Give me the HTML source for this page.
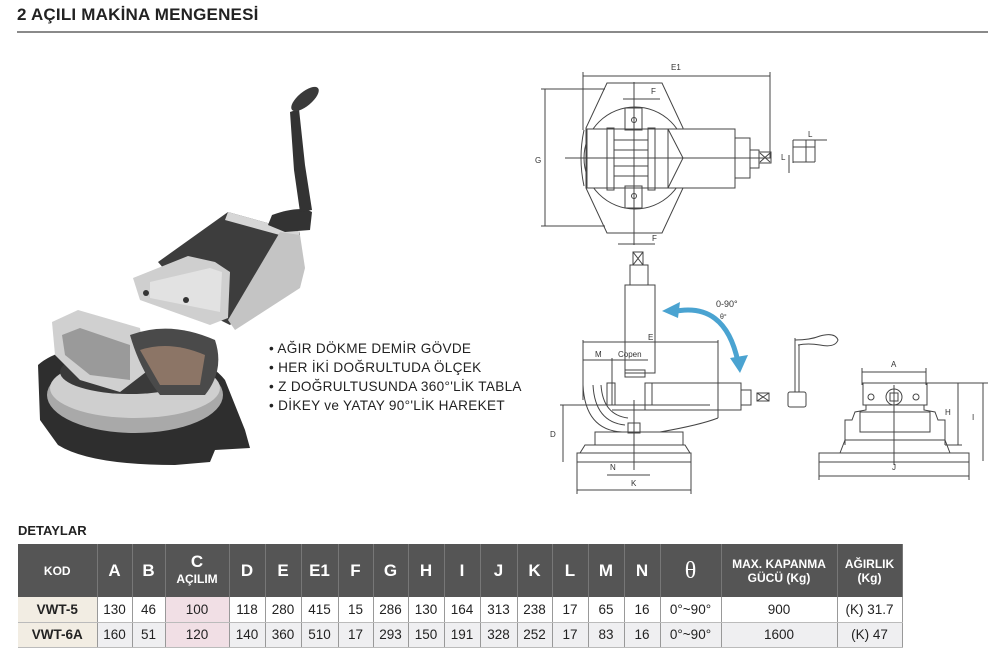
<!DOCTYPE html>
<html><head><meta charset="utf-8">
<style>
*{margin:0;padding:0;box-sizing:border-box}
body{width:988px;height:655px;background:#fff;position:relative;overflow:hidden;font-family:"Liberation Sans","DejaVu Sans",sans-serif;color:#222}
.title{position:absolute;left:17px;top:5px;font-size:17px;font-weight:bold;letter-spacing:0.2px}
.rule{position:absolute;left:17px;top:31px;width:971px;height:2px;background:#8a8a8a}
.bul{position:absolute;left:269px;top:339px;font-size:13.6px;line-height:19px;color:#222;letter-spacing:0.3px}
.det{position:absolute;left:18px;top:523px;font-size:13px;font-weight:bold}
table{position:absolute;left:18px;top:544px;border-collapse:collapse;font-size:13px;table-layout:fixed}
th{background:#555;color:#fff;height:53px;font-weight:bold;font-size:17px;border-right:1px solid #777;text-align:center;line-height:16px}
th.s{font-size:12px;line-height:14px}
td{height:25px;text-align:center;border-right:1px solid #999;border-bottom:1px solid #bbb;color:#222;font-size:13.5px}
tr.r2 td{background:#efeff1}
td.k{background:#f2ede3!important;font-weight:bold;font-size:13.5px}
td.c{background:#f1dfe5!important}
svg text{font-family:"Liberation Sans",sans-serif;fill:#333;stroke:none}
</style></head><body>
<div class="title">2 AÇILI MAKİNA MENGENESİ</div>
<div class="rule"></div>

<svg width="988" height="520" style="position:absolute;left:0;top:0">
<!-- vise photo approximation -->
<g>
<!-- base plate -->
<path d="M38 365 Q60 345 120 345 Q200 348 225 380 L245 430 L250 448 L215 450 L210 462 L175 465 Q90 465 58 445 L40 420Z" fill="#2e2e2e"/>
<ellipse cx="135" cy="395" rx="88" ry="38" fill="#a9a9a9"/>
<ellipse cx="135" cy="388" rx="85" ry="30" fill="#cfcfcf"/>
<ellipse cx="130" cy="372" rx="70" ry="22" fill="#3a3a3a"/>
<!-- rear fixed jaw / cradle -->
<path d="M52 322 L78 310 L140 328 L146 372 L120 392 L80 380 L55 355Z" fill="#d0d0d0"/>
<path d="M62 335 L80 328 L130 345 L130 380 L90 375 L65 355Z" fill="#9a9a9a"/>
<path d="M130 335 Q170 320 215 340 Q225 370 205 395 L160 395 Q140 370 130 335Z" fill="#4a4a4a"/>
<path d="M140 350 Q170 340 205 355 L200 385 L160 385Z" fill="#8c7566"/>
<!-- main body -->
<path d="M158 262 L228 212 L300 232 L297 266 L230 325 L200 310Z" fill="#3d3d3d"/>
<path d="M228 212 L300 232 L298 240 L225 220Z" fill="#d6d6d6"/>
<path d="M280 232 L300 235 L305 268 L300 288 L235 330 L228 320Z" fill="#c4c4c4"/>
<!-- moving jaw front -->
<path d="M133 278 L188 256 L215 262 L230 272 L228 318 L210 325 L140 300Z" fill="#cfcfcf"/>
<path d="M150 282 L210 268 L222 272 L220 312 L150 298Z" fill="#e2e2e2"/>
<circle cx="146" cy="293" r="3" fill="#333"/><circle cx="186" cy="300" r="3" fill="#333"/>
<!-- crank -->
<path d="M272 215 Q300 205 312 212 L310 230 L285 232 L268 225Z" fill="#333"/>
<path d="M290 112 L299 109 L305 165 L312 210 L300 212 L294 170Z" fill="#333"/>
<ellipse cx="305" cy="99" rx="17" ry="7" transform="rotate(-40 305 99)" fill="#3a3a3a"/>
</g>

<!-- top view drawing -->
<g fill="none" stroke="#444" stroke-width="1">
<line x1="583" y1="76" x2="770" y2="76"/>
<line x1="583" y1="72" x2="583" y2="130"/>
<line x1="770" y1="72" x2="770" y2="158"/>
<polygon points="586,128 607,83 662,83 683,128 683,188 662,233 607,233 586,188"/>
<circle cx="635" cy="158" r="51"/>
<path d="M584 130 Q578 158 584 186"/>
<rect x="587" y="129" width="81" height="59" fill="#fff"/>
<rect x="607" y="128" width="7" height="62"/>
<rect x="648" y="128" width="7" height="62"/>
<line x1="614" y1="140" x2="648" y2="140"/><line x1="614" y1="150" x2="648" y2="150"/><line x1="614" y1="166" x2="648" y2="166"/><line x1="614" y1="176" x2="648" y2="176"/>
<rect x="625" y="108" width="17" height="22"/><circle cx="634" cy="120" r="2.5"/>
<rect x="625" y="186" width="17" height="22"/><circle cx="634" cy="196" r="2.5"/>
<rect x="668" y="129" width="67" height="59" fill="#fff"/>
<polyline points="668,129 683,158 668,188"/>
<rect x="735" y="138" width="15" height="40"/>
<rect x="750" y="150" width="9" height="18"/>
<rect x="759" y="152" width="12" height="11"/>
<line x1="760" y1="153" x2="770" y2="162"/><line x1="770" y1="153" x2="760" y2="162"/>
<line x1="565" y1="158" x2="771" y2="158"/>
<line x1="634" y1="82" x2="634" y2="245"/>
<line x1="545" y1="89" x2="545" y2="226"/>
<line x1="541" y1="89" x2="605" y2="89"/><line x1="541" y1="226" x2="605" y2="226"/>
<line x1="623" y1="99" x2="660" y2="99"/><line x1="618" y1="244" x2="655" y2="244"/>
<line x1="793" y1="140" x2="793" y2="163"/>
<line x1="793" y1="140" x2="815" y2="140"/><line x1="793" y1="147" x2="815" y2="147"/><line x1="793" y1="162" x2="815" y2="162"/>
<line x1="806" y1="140" x2="806" y2="162"/><line x1="815" y1="140" x2="815" y2="162"/>
<line x1="797" y1="140" x2="827" y2="140"/>
<line x1="789" y1="155" x2="789" y2="173"/>
</g>
<text x="671" y="70" font-size="8">E1</text>
<text x="535" y="163" font-size="8">G</text>
<text x="651" y="94" font-size="8">F</text>
<text x="652" y="241" font-size="8">F</text>
<text x="808" y="137" font-size="8">L</text>
<text x="781" y="160" font-size="8">L</text>

<!-- side view drawing -->
<g fill="none" stroke="#444" stroke-width="1">
<rect x="633" y="252" width="10" height="13"/>
<line x1="633" y1="252" x2="643" y2="265"/><line x1="643" y1="252" x2="633" y2="265"/>
<rect x="630" y="265" width="18" height="20"/>
<rect x="625" y="285" width="30" height="88"/>
<rect x="625" y="370" width="20" height="7"/>
<line x1="583" y1="342" x2="718" y2="342"/>
<line x1="583" y1="340" x2="583" y2="400"/>
<line x1="718" y1="340" x2="718" y2="418"/>
<line x1="583" y1="360" x2="648" y2="360"/>
<line x1="612" y1="358" x2="612" y2="405"/>
<path d="M583 385 Q585 430 622 432"/>
<path d="M593 385 Q595 422 625 425"/>
<path d="M601 385 Q603 415 628 418"/>
<rect x="607" y="383" width="8" height="22"/>
<rect x="645" y="383" width="96" height="27"/>
<line x1="652" y1="383" x2="652" y2="405"/>
<line x1="612" y1="405" x2="710" y2="405"/>
<line x1="612" y1="410" x2="712" y2="410"/>
<path d="M718 418 Q700 425 660 432 L622 432"/>
<rect x="741" y="390" width="10" height="15"/>
<rect x="757" y="393" width="12" height="8"/>
<line x1="757" y1="393" x2="769" y2="401"/><line x1="769" y1="393" x2="757" y2="401"/>
<rect x="628" y="423" width="12" height="10"/>
<rect x="595" y="432" width="88" height="13"/>
<path d="M580 453 L585 445 L685 445 L690 453"/>
<rect x="577" y="453" width="114" height="9"/>
<line x1="634" y1="400" x2="634" y2="470"/>
<line x1="563" y1="405" x2="563" y2="462"/>
<line x1="560" y1="405" x2="610" y2="405"/>
<line x1="607" y1="475" x2="650" y2="475"/>
<line x1="577" y1="490" x2="691" y2="490"/>
<line x1="577" y1="462" x2="577" y2="494"/><line x1="691" y1="462" x2="691" y2="494"/>
</g>
<text x="716" y="307" font-size="9">0-90°</text>
<text x="720" y="319" font-size="7">θ°</text>
<text x="648" y="340" font-size="8">E</text>
<text x="595" y="357" font-size="8">M</text>
<text x="618" y="357" font-size="8">Copen</text>
<text x="550" y="437" font-size="8">D</text>
<text x="610" y="470" font-size="8">N</text>
<text x="631" y="486" font-size="8">K</text>
<path d="M672 312 Q725 300 738 362" fill="none" stroke="#4aa3d1" stroke-width="5"/>
<path d="M662 311 L680 302 L678 318Z" fill="#4aa3d1"/>
<path d="M730 358 L740 373 L748 355Z" fill="#4aa3d1"/>

<!-- handle -->
<g fill="none" stroke="#444" stroke-width="1">
<path d="M795 340 Q810 340 820 336 Q835 332 838 340 Q835 348 820 345 Q808 343 798 345"/>
<line x1="795" y1="338" x2="795" y2="392"/><line x1="799" y1="345" x2="799" y2="392"/>
<rect x="788" y="392" width="18" height="15" rx="2"/>
</g>

<!-- front view -->
<g fill="none" stroke="#444" stroke-width="1">
<line x1="862" y1="372" x2="926" y2="372"/>
<line x1="862" y1="368" x2="862" y2="385"/><line x1="926" y1="368" x2="926" y2="385"/>
<rect x="863" y="383" width="64" height="22"/>
<circle cx="871" cy="397" r="3"/><circle cx="916" cy="397" r="3"/>
<circle cx="894" cy="397" r="8"/><rect x="890" y="393" width="8" height="8"/>
<path d="M866 405 L866 410 L855 412 L852 420 L845 420 L845 445"/>
<path d="M924 405 L924 410 L935 412 L938 420 L945 420 L945 445"/>
<rect x="860" y="412" width="70" height="20"/>
<path d="M840 453 L845 440 L945 440 L950 453"/>
<rect x="819" y="453" width="150" height="9"/>
<line x1="894" y1="385" x2="894" y2="465"/>
<line x1="819" y1="476" x2="969" y2="476"/>
<line x1="819" y1="462" x2="819" y2="480"/><line x1="969" y1="462" x2="969" y2="480"/>
<line x1="927" y1="383" x2="988" y2="383"/>
<line x1="958" y1="383" x2="958" y2="445"/>
<line x1="945" y1="445" x2="962" y2="445"/>
<line x1="983" y1="383" x2="983" y2="461"/>
</g>
<text x="891" y="367" font-size="8">A</text>
<text x="945" y="415" font-size="8">H</text>
<text x="972" y="420" font-size="8">I</text>
<text x="892" y="470" font-size="8">J</text>
</svg>

<div class="bul">• AĞIR DÖKME DEMİR GÖVDE<br>• HER İKİ DOĞRULTUDA ÖLÇEK<br>• Z DOĞRULTUSUNDA 360°'LİK TABLA<br>• DİKEY ve YATAY 90°'LİK HAREKET</div>

<div class="det">DETAYLAR</div>
<table>
<colgroup>
<col style="width:79px"><col style="width:35px"><col style="width:33px"><col style="width:64px"><col style="width:36px"><col style="width:36px"><col style="width:37px"><col style="width:35px"><col style="width:35px"><col style="width:36px"><col style="width:36px"><col style="width:37px"><col style="width:35px"><col style="width:36px"><col style="width:36px"><col style="width:36px"><col style="width:61px"><col style="width:116px"><col style="width:65px">
</colgroup>
<tr><th class="s" style="font-size:12px">KOD</th><th>A</th><th>B</th><th>C<br><span style="font-size:12px">AÇILIM</span></th><th>D</th><th>E</th><th>E1</th><th>F</th><th>G</th><th>H</th><th>I</th><th>J</th><th>K</th><th>L</th><th>M</th><th>N</th><th style="font-family:'Liberation Serif',serif;font-weight:normal;font-size:24px">θ</th><th class="s">MAX. KAPANMA<br>GÜCÜ (Kg)</th><th class="s">AĞIRLIK<br>(Kg)</th></tr>
<tr><td class="k">VWT-5</td><td>130</td><td>46</td><td class="c">100</td><td>118</td><td>280</td><td>415</td><td>15</td><td>286</td><td>130</td><td>164</td><td>313</td><td>238</td><td>17</td><td>65</td><td>16</td><td>0°~90°</td><td>900</td><td>(K) 31.7</td></tr>
<tr class="r2"><td class="k">VWT-6A</td><td>160</td><td>51</td><td class="c">120</td><td>140</td><td>360</td><td>510</td><td>17</td><td>293</td><td>150</td><td>191</td><td>328</td><td>252</td><td>17</td><td>83</td><td>16</td><td>0°~90°</td><td>1600</td><td>(K) 47</td></tr>
</table>
</body></html>
